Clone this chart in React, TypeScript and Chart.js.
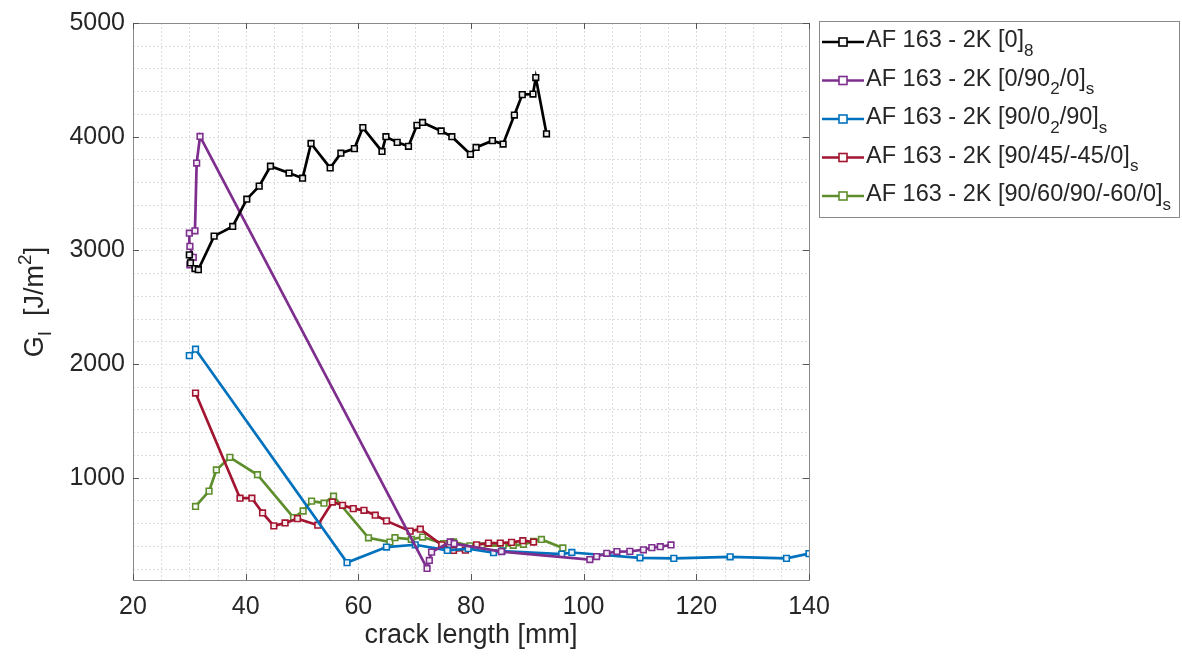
import React, { useEffect, useRef } from "react";
import { Chart, registerables } from "chart.js";

Chart.register(...registerables);

const FONT = '"Liberation Sans", Arial, Helvetica, sans-serif';
const TEXT = "#262626";

// ---- data (crack length [mm], G_I [J/m^2]) ----
const black0_8X = [30.0, 30.2, 31.0, 31.6, 34.4, 37.7, 40.2, 42.4, 44.4, 47.7, 50.1, 51.6, 55.0, 56.9, 59.3, 60.8, 64.2, 64.9, 66.9, 68.9, 70.4, 71.4, 74.7, 76.6, 79.9, 80.9, 83.8, 85.7, 87.7, 89.1, 91.0, 91.5, 93.4];
const black0_8Y = [2960, 2890, 2840, 2830, 3125, 3210, 3450, 3565, 3740, 3680, 3635, 3940, 3725, 3855, 3895, 4080, 3870, 4000, 3950, 3915, 4100, 4125, 4050, 4000, 3845, 3905, 3965, 3935, 4190, 4370, 4375, 4520, 4025];

const purpleX = [30.1, 30.7, 30.1, 30.0, 31.0, 31.3, 31.9, 72.2, 72.6, 73.0, 76.3, 77.0, 85.4, 101.1, 102.3, 104.1, 105.9, 108.2, 110.6, 112.1, 113.6, 115.5];
const purpleY = [2872, 2939, 3035, 3151, 3172, 3768, 4002, 202, 272, 345, 435, 420, 350, 280, 306, 335, 350, 352, 366, 385, 393, 408];

const blueX = [30.0, 31.1, 58.0, 65.0, 70.1, 75.8, 79.5, 84.0, 85.5, 96.1, 97.9, 110.0, 116.0, 126.0, 136.0, 140.0];
const blueY = [2074, 2130, 253, 390, 410, 360, 375, 340, 355, 328, 342, 295, 290, 304, 290, 332];

const redX = [31.1, 39.0, 41.1, 43.0, 45.0, 47.0, 49.2, 52.8, 55.4, 57.2, 59.1, 61.0, 63.0, 65.0, 69.2, 71.0, 74.8, 76.9, 79.0, 81.0, 83.1, 85.2, 87.2, 89.2, 91.1];
const redY = [1745, 820, 820, 690, 576, 602, 640, 582, 786, 757, 728, 713, 670, 620, 530, 547, 410, 360, 362, 410, 425, 425, 431, 446, 434];

const greenX = [31.1, 33.5, 34.8, 37.2, 42.1, 48.5, 50.2, 51.7, 53.9, 55.6, 61.8, 65.6, 66.5, 69.4, 71.4, 75.1, 76.9, 79.8, 81.9, 85.7, 87.5, 89.3, 91.1, 92.5, 96.3];
const greenY = [747, 882, 1068, 1179, 1026, 649, 707, 794, 776, 837, 471, 434, 472, 458, 478, 420, 435, 400, 400, 405, 405, 414, 440, 457, 382];

const xTickLabels = [20, 40, 60, 80, 100, 120, 140];
const yTickLabels = [1000, 2000, 3000, 4000, 5000];
const xMinorGrid = [25, 30, 35, 40, 45, 50, 55, 60, 65, 70, 75, 80, 85, 90, 95, 100, 105, 110, 115, 120, 125, 130, 135];
const yMinorGrid = [200, 400, 600, 800, 1000, 1200, 1400, 1600, 1800, 2000, 2200, 2400, 2600, 2800, 3000, 3200, 3400, 3600, 3800, 4000, 4200, 4400, 4600, 4800];

type Seg = { t: string; sub?: boolean };
const seriesNames: Seg[][] = [
  [{ t: "AF 163 - 2K [0]" }, { t: "8", sub: true }],
  [{ t: "AF 163 - 2K [0/90" }, { t: "2", sub: true }, { t: "/0]" }, { t: "s", sub: true }],
  [{ t: "AF 163 - 2K [90/0" }, { t: "2", sub: true }, { t: "/90]" }, { t: "s", sub: true }],
  [{ t: "AF 163 - 2K [90/45/-45/0]" }, { t: "s", sub: true }],
  [{ t: "AF 163 - 2K [90/60/90/-60/0]" }, { t: "s", sub: true }],
];
const seriesColors = ["#000000", "#7E2F8E", "#0072BD", "#A2142F", "#5E8E2C"];
const seriesX = [black0_8X, purpleX, blueX, redX, greenX];
const seriesY = [black0_8Y, purpleY, blueY, redY, greenY];

const LABEL_SIZE = 25;
const TITLE_SIZE = 27;
const LEGEND_SIZE = 23.5;

const decor = {
  id: "decor",
  beforeDatasetsDraw(chart: any) {
    const { ctx, chartArea: a, scales } = chart;
    const xs = scales.x;
    const ys = scales.y;
    ctx.save();
    ctx.strokeStyle = "#dcdcdc";
    ctx.lineWidth = 1;
    ctx.setLineDash([2, 2]);
    for (const v of xMinorGrid) {
      const px = Math.round(xs.getPixelForValue(v)) + 0.5;
      ctx.beginPath();
      ctx.moveTo(px, a.top);
      ctx.lineTo(px, a.bottom);
      ctx.stroke();
    }
    for (const v of yMinorGrid) {
      const py = Math.round(ys.getPixelForValue(v)) + 0.5;
      ctx.beginPath();
      ctx.moveTo(a.left, py);
      ctx.lineTo(a.right, py);
      ctx.stroke();
    }
    ctx.restore();
  },
  afterDatasetsDraw(chart: any) {
    const { ctx, chartArea: a, scales } = chart;
    const xs = scales.x;
    const ys = scales.y;
    ctx.save();
    ctx.strokeStyle = "#8a8a8a";
    ctx.lineWidth = 1;
    ctx.strokeRect(Math.round(a.left) + 0.5, Math.round(a.top) + 0.5, Math.round(a.right - a.left), Math.round(a.bottom - a.top));
    ctx.strokeStyle = "#555";
    const tl = 6;
    for (const v of xTickLabels) {
      const px = Math.round(xs.getPixelForValue(v)) + 0.5;
      ctx.beginPath();
      ctx.moveTo(px, a.bottom);
      ctx.lineTo(px, a.bottom - tl);
      ctx.moveTo(px, a.top);
      ctx.lineTo(px, a.top + tl);
      ctx.stroke();
    }
    for (const v of yTickLabels) {
      const py = Math.round(ys.getPixelForValue(v)) + 0.5;
      ctx.beginPath();
      ctx.moveTo(a.left, py);
      ctx.lineTo(a.left + tl, py);
      ctx.moveTo(a.right, py);
      ctx.lineTo(a.right - tl, py);
      ctx.stroke();
    }
    ctx.restore();
  },
  afterDraw(chart: any) {
    const { ctx, chartArea: a } = chart;
    ctx.save();
    ctx.fillStyle = TEXT;
    ctx.font = `${TITLE_SIZE}px ${FONT}`;
    ctx.textAlign = "center";
    ctx.textBaseline = "middle";
    ctx.fillText("crack length [mm]", (a.left + a.right) / 2, 636);

    ctx.save();
    ctx.translate(36, 302);
    ctx.rotate(-Math.PI / 2);
    const big = `${TITLE_SIZE}px ${FONT}`;
    const small = `${Math.round(TITLE_SIZE * 0.7)}px ${FONT}`;
    const ySegs = [
      { t: "G", f: big, dy: 0 },
      { t: "I", f: small, dy: 10 },
      { t: "  [J/m", f: big, dy: 0 },
      { t: "2", f: small, dy: -10 },
      { t: "]", f: big, dy: 0 },
    ];
    let total = 0;
    for (const s of ySegs) {
      ctx.font = s.f;
      total += ctx.measureText(s.t).width;
    }
    let cx = -total / 2;
    ctx.textAlign = "left";
    for (const s of ySegs) {
      ctx.font = s.f;
      ctx.fillText(s.t, cx, s.dy);
      cx += ctx.measureText(s.t).width;
    }
    ctx.restore();

    const lx0 = 819, ly0 = 21, lx1 = 1179, ly1 = 217;
    ctx.fillStyle = "#fff";
    ctx.fillRect(lx0, ly0, lx1 - lx0, ly1 - ly0);
    ctx.strokeStyle = "#8a8a8a";
    ctx.lineWidth = 1;
    ctx.strokeRect(lx0 + 0.5, ly0 + 0.5, lx1 - lx0, ly1 - ly0);
    seriesNames.forEach((segs, i) => {
      const y = 42 + i * 38.5;
      const col = seriesColors[i];
      ctx.strokeStyle = col;
      ctx.lineWidth = 2.7;
      ctx.beginPath();
      ctx.moveTo(822, y);
      ctx.lineTo(864, y);
      ctx.stroke();
      ctx.fillStyle = "#fff";
      ctx.fillRect(839, y - 4, 8, 8);
      ctx.lineWidth = 1.6;
      ctx.strokeRect(839, y - 4, 8, 8);
      let tx = 866;
      ctx.fillStyle = TEXT;
      ctx.textAlign = "left";
      ctx.textBaseline = "middle";
      for (const s of segs) {
        if (s.sub) {
          ctx.font = `${Math.round(LEGEND_SIZE * 0.72)}px ${FONT}`;
          ctx.fillText(s.t, tx, y + 9);
        } else {
          ctx.font = `${LEGEND_SIZE}px ${FONT}`;
          ctx.fillText(s.t, tx, y - 1);
        }
        tx += ctx.measureText(s.t).width;
      }
    });
    ctx.restore();
  },
};

export default function App() {
  const ref = useRef<HTMLCanvasElement>(null);
  useEffect(() => {
    document.body.style.margin = "0";
    const datasets = seriesNames.map((segs, i) => ({
      label: segs.map((s) => s.t).join(""),
      data: seriesX[i].map((x, j) => ({ x, y: seriesY[i][j] })),
      showLine: true,
      borderColor: seriesColors[i],
      backgroundColor: "rgba(255,255,255,0.9)",
      borderWidth: 2.7,
      pointStyle: "rect",
      pointRadius: 4,
      pointBorderWidth: 1.6,
      pointBorderColor: seriesColors[i],
      pointBackgroundColor: "rgba(255,255,255,0.9)",
      tension: 0,
    }));
    const chart = new Chart(ref.current as HTMLCanvasElement, {
      type: "scatter",
      data: { datasets },
      options: {
        responsive: false,
        animation: false,
        layout: { padding: { left: 0, right: 373, top: 19, bottom: 0 } },
        plugins: { legend: { display: false }, tooltip: { enabled: false } },
        scales: {
          x: {
            type: "linear",
            min: 20,
            max: 140,
            afterFit: (s: any) => {
              s.height = 79;
            },
            afterBuildTicks: (s: any) => {
              s.ticks = xTickLabels.map((v) => ({ value: v }));
            },
            grid: { display: false, drawTicks: false },
            border: { display: false },
            ticks: {
              color: TEXT,
              font: { family: FONT, size: LABEL_SIZE },
              padding: 12,
              maxRotation: 0,
              autoSkip: false,
              callback: (v: any) => String(v),
            },
          },
          y: {
            type: "linear",
            min: 100,
            max: 5000,
            afterFit: (s: any) => {
              s.width = 133;
            },
            afterBuildTicks: (s: any) => {
              s.ticks = yTickLabels.map((v) => ({ value: v }));
            },
            grid: { display: false, drawTicks: false },
            border: { display: false },
            ticks: {
              color: TEXT,
              font: { family: FONT, size: LABEL_SIZE },
              padding: 8,
              autoSkip: false,
              callback: (v: any) => String(v),
            },
          },
        },
      },
      plugins: [decor],
    });
    return () => chart.destroy();
  }, []);
  return (
    <div style={{ position: "fixed", left: 0, top: 0, width: 1182, height: 659, background: "#fff" }}>
      <canvas ref={ref} width={1182} height={659} style={{ display: "block" }} />
    </div>
  );
}
